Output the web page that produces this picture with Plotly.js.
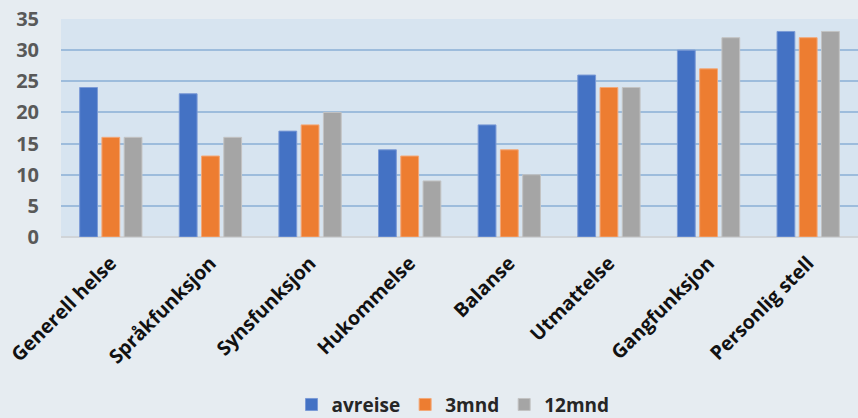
<!DOCTYPE html>
<html><head><meta charset="utf-8">
<script src="https://cdn.plot.ly/plotly-3.0.1.min.js"></script>
<style>html,body{margin:0;padding:0;background:#e6ecf1;}#c{width:858px;height:418px;}</style>
</head><body><div id="c"></div>
<script>
const categories = ["Generell helse","Språkfunksjon","Synsfunksjon","Hukommelse","Balanse","Utmattelse","Gangfunksjon","Personlig stell"];
const avreise = [24,23,17,14,18,26,30,33];
const mnd3 = [16,13,18,13,14,24,27,32];
const mnd12 = [16,16,20,9,10,24,32,33];
const seriesNames = ["avreise","3mnd","12mnd"];
const tickVals = [0,5,10,15,20,25,30,35];

const colors = ["#4472c4","#ed7d31","#a5a5a5"];
const lines = ["#7b9ad6","#f3a878","#c3c3c3"];
const data = [avreise, mnd3, mnd12].map((v,i)=>({
  type:"bar", x:categories, y:v, name:seriesNames[i],
  marker:{color:colors[i], line:{color:lines[i], width:1}}
}));
const layout = {
  width:858, height:418,
  paper_bgcolor:"#e6ecf1", plot_bgcolor:"#d7e4f0",
  margin:{l:61,r:0,t:19,b:181,pad:0},
  barmode:"group", bargap:0.33, bargroupgap:0.2,
  font:{family:"'Open Sans', sans-serif"},
  xaxis:{automargin:false, tickangle:-45, showgrid:false, zeroline:false,
    showline:false, ticks:"", ticklabelstandoff:10, tickfont:{size:19.5, color:"#111", weight:"bold"}},
  yaxis:{automargin:false, range:[0,35], tickvals:tickVals, showgrid:true,
    gridcolor:"#9dbcdc", gridwidth:2, zeroline:true, zerolinecolor:"#d0d4d8", zerolinewidth:2,
    ticks:"", ticklabelstandoff:21, tickfont:{size:20, color:"#595959", weight:"bold"}},
  showlegend:true,
  legend:{orientation:"h", x:0.528, xref:"container", xanchor:"center", yref:"container", y:0.032, yanchor:"middle",
    font:{size:19, color:"#262626", weight:"bold"}, itemwidth:20, traceorder:"normal",
    bgcolor:"rgba(0,0,0,0)"}
};
Plotly.newPlot("c", data, layout, {displayModeBar:false, staticPlot:true});
</script></body></html>
